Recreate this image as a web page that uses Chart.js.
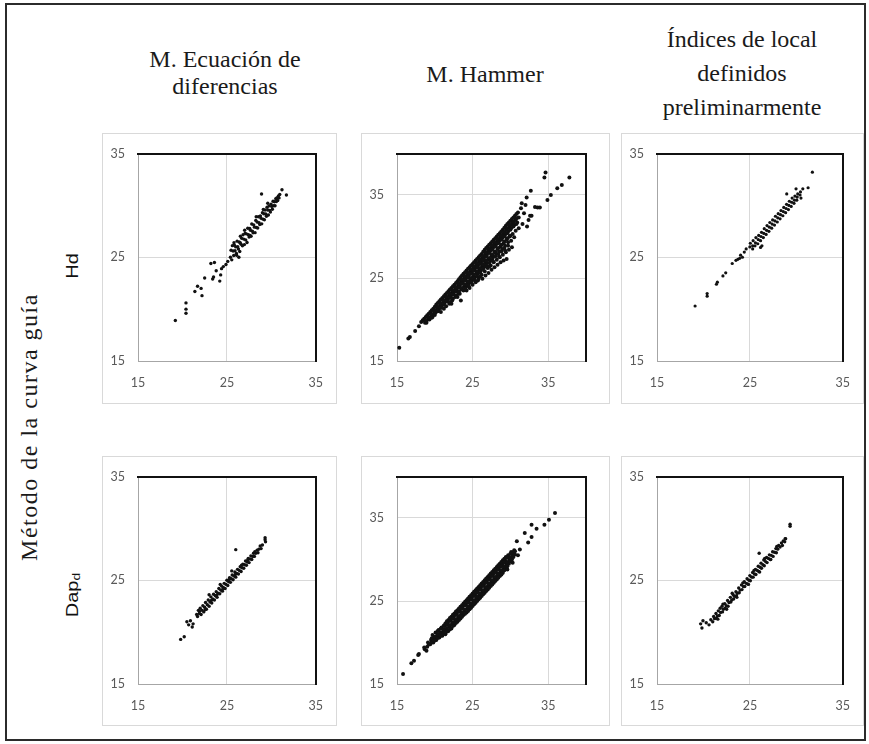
<!DOCTYPE html>
<html><head><meta charset="utf-8">
<script src="https://cdn.jsdelivr.net/npm/chart.js@4.4.1/dist/chart.umd.min.js"></script>
<style>
html,body{margin:0;padding:0;background:#fff;}
body{width:869px;height:744px;position:relative;overflow:hidden;}
.frame{position:absolute;left:5px;top:3px;width:861px;height:738px;border:2px solid #2b2b2b;box-sizing:border-box;}
.box{position:absolute;border:1px solid #d9d9d9;box-sizing:border-box;background:#fff;}
canvas{position:absolute;}
.title{position:absolute;font-family:"Liberation Serif","Times New Roman",serif;font-size:24px;line-height:24px;color:#1a1a1a;text-align:center;white-space:nowrap;}
.rot{position:absolute;white-space:nowrap;}
.serif{font-family:"Liberation Serif","Times New Roman",serif;font-size:24px;line-height:24px;letter-spacing:1.5px;color:#1a1a1a;transform:translate(-50%,-50%) rotate(-90deg);}
.sans{font-family:"Liberation Sans",Arial,sans-serif;font-size:16px;line-height:16px;color:#111;transform:translate(-50%,-50%) rotate(-90deg) scaleX(1.25);}
.sub{font-size:0.7em;line-height:0;vertical-align:-0.2em;}
</style></head>
<body>
<div class="frame"></div>

<div class="title" style="left:75px;top:47px;width:300px;">M. Ecuación de</div>
<div class="title" style="left:75px;top:74px;width:300px;">diferencias</div>
<div class="title" style="left:335px;top:62px;width:300px;">M. Hammer</div>
<div class="title" style="left:592px;top:27px;width:300px;">Índices de local</div>
<div class="title" style="left:592px;top:61px;width:300px;">definidos</div>
<div class="title" style="left:592px;top:95px;width:300px;">preliminarmente</div>

<div class="rot serif" style="left:29px;top:427px;">Método de la curva guía</div>
<div class="rot sans" style="left:73px;top:266px;">Hd</div>
<div class="rot sans" style="left:73px;top:595px;">Dap<span class="sub">d</span></div>

<div class="box" style="left:102px;top:133px;width:235px;height:271px;"></div>
<div class="box" style="left:361px;top:133px;width:249px;height:271px;"></div>
<div class="box" style="left:621px;top:133px;width:243px;height:271px;"></div>
<div class="box" style="left:102px;top:456px;width:235px;height:270px;"></div>
<div class="box" style="left:361px;top:456px;width:249px;height:270px;"></div>
<div class="box" style="left:621px;top:456px;width:243px;height:270px;"></div>

<canvas id="c1" width="235" height="271" style="left:102px;top:133px;"></canvas>
<canvas id="c2" width="249" height="271" style="left:361px;top:133px;"></canvas>
<canvas id="c3" width="243" height="271" style="left:621px;top:133px;"></canvas>
<canvas id="c4" width="235" height="270" style="left:102px;top:456px;"></canvas>
<canvas id="c5" width="249" height="270" style="left:361px;top:456px;"></canvas>
<canvas id="c6" width="243" height="270" style="left:621px;top:456px;"></canvas>

<script>
// ---- tick values ----
const tickValues = [15, 25, 35];
const axisMin = 15;
const axisMaxSmall = 35;
const axisMaxHammer = 40;

const ecuacionHd = [[19.2,18.9],[20.4,20.6],[20.4,20.0],[20.4,19.6],[21.4,21.7],[21.7,22.2],[22.1,22.0],[22.2,21.3],[22.5,23.0],[23.2,24.4],[23.6,24.5],[23.4,22.9],[23.5,23.1],[23.8,23.7],[24.2,22.7],[24.3,23.3],[24.4,23.9],[24.6,24.1],[24.9,24.3],[25.1,24.6],
[25.4,25.0],[25.47,25.67],[25.55,24.75],[25.62,26.12],[25.7,25.6],[25.77,25.17],[25.85,26.15],[25.92,25.62],[26.0,26.0],[26.07,25.37],[26.15,26.55],[26.22,26.02],[26.3,25.8],[26.37,26.47],[26.35,25.0],[26.45,25.55],[26.52,27.02],[26.6,26.25],[26.67,26.82],[26.75,26.1],[26.82,27.17],[26.9,26.75],[26.97,26.22],[27.05,27.3],[27.12,26.67],[27.2,27.25],[27.27,26.42],[27.35,27.8],[27.42,27.17],[27.5,26.95],[27.57,27.77],[27.65,27.6],[27.72,27.02],[27.8,28.2],[27.87,27.52],[27.95,27.35],[28.02,28.12],[28.1,27.9],[28.17,27.37],[28.25,28.55],[28.32,27.87],[28.4,28.4],[28.47,27.82],[28.55,28.9],[28.62,28.32],[28.7,28.15],[28.77,28.97],[28.85,28.75],[28.92,28.22],[29.0,29.3],[29.07,28.67],[29.15,29.2],[29.22,28.62],[29.3,29.55],[29.37,29.17],[29.45,28.95],[29.52,29.82],[29.6,29.55],[29.67,29.07],[29.75,29.95],[29.82,29.52],[29.9,29.35],[29.97,30.12],[30.05,29.9],[30.12,29.62],[30.2,30.4],[30.27,29.97],[30.35,30.35],[30.42,29.97],[30.5,30.65],[30.57,30.37],[30.65,30.75],[30.72,30.47],[30.8,30.9],[30.87,30.72],[30.95,31.05],
[25.8,26.4],[26.1,25.2],[26.5,26.4],[27.0,27.6],[27.6,27.1],[28.3,28.9],[29.1,29.6],[29.6,30.2],[28.9,31.1],[31.2,31.5],[31.7,31.0]];

const hammerHd = [[15.3,16.6],[16.5,17.7],[16.7,17.9],[17.4,18.6],[17.9,19.2],[18.2,19.7],[18.4,19.9],
[18.6,20.1],[18.7,19.6],[19.0,20.5],[19.1,20.0],[18.9,19.6],[19.4,20.9],[19.5,20.4],[19.3,20.0],[19.8,21.3],[19.9,20.8],[19.7,20.3],[20.2,21.8],[20.3,21.3],[20.1,20.8],
[20.6,22.2],[20.7,21.7],[20.5,21.2],[20.8,20.9],[21.0,22.6],[21.1,22.1],[20.9,21.6],[21.2,21.3],[21.4,23.0],[21.5,22.5],[21.3,22.0],[21.5,21.6],[21.8,23.4],[21.9,22.9],[21.7,22.4],[21.9,21.9],
[22.2,23.8],[22.3,23.3],[22.1,22.8],[22.3,22.3],[22.2,21.9],[22.6,24.2],[22.7,23.7],[22.5,23.2],[22.7,22.7],[23.0,24.6],[23.1,24.1],[22.9,23.6],[23.1,23.1],[23.0,22.7],
[23.4,25.1],[23.5,24.6],[23.3,24.1],[23.5,23.6],[23.3,23.1],[23.45,22.3],[23.8,25.5],[23.9,25.0],[23.7,24.5],[23.9,24.0],[23.8,23.5],
[24.2,25.9],[24.3,25.4],[24.1,24.9],[24.3,24.4],[24.1,23.9],[24.2,23.5],[24.6,26.3],[24.7,25.8],[24.5,25.3],[24.7,24.8],[24.5,24.3],[24.6,23.8],
[25.0,26.7],[25.1,26.2],[24.9,25.7],[25.1,25.2],[24.9,24.7],[25.0,24.2],[25.4,27.1],[25.5,26.6],[25.3,26.1],[25.5,25.6],[25.3,25.1],[25.4,24.5],
[25.8,27.5],[25.9,27.0],[25.7,26.5],[25.9,26.0],[25.7,25.5],[25.8,24.9],[26.2,27.9],[26.3,27.4],[26.1,26.9],[26.3,26.4],[26.1,25.9],[26.2,25.4],[26.3,24.9],
[26.6,28.4],[26.7,27.9],[26.5,27.4],[26.7,26.9],[26.5,26.4],[26.6,25.8],[26.7,25.3],[27.0,28.8],[27.1,28.3],[26.9,27.8],[27.1,27.3],[26.9,26.8],[27.0,26.2],[27.1,25.6],
[27.4,29.2],[27.5,28.7],[27.3,28.2],[27.5,27.7],[27.3,27.1],[27.4,26.5],[27.5,26.0],[27.8,29.6],[27.9,29.1],[27.7,28.6],[27.9,28.1],[27.7,27.5],[27.8,26.9],[27.9,26.3],
[28.2,30.0],[28.3,29.5],[28.1,29.0],[28.3,28.5],[28.1,27.9],[28.2,27.2],[28.3,26.6],[28.6,30.4],[28.7,29.9],[28.5,29.4],[28.7,28.8],[28.5,28.2],[28.6,27.5],[28.7,26.9],
[29.0,30.8],[29.1,30.3],[28.9,29.8],[29.1,29.2],[28.9,28.5],[29.0,27.8],[29.1,27.1],[29.4,31.3],[29.5,30.8],[29.3,30.2],[29.5,29.6],[29.3,28.9],[29.4,28.1],[29.5,27.3],
[29.8,31.7],[29.9,31.2],[29.7,30.6],[29.9,30.0],[29.7,29.3],[29.8,28.4],[30.2,32.1],[30.3,31.6],[30.1,31.0],[30.3,30.3],[30.1,29.5],[30.2,28.7],
[30.6,32.5],[30.7,32.0],[30.5,31.4],[30.7,30.7],[30.5,29.9],[31.0,32.9],[31.1,32.3],[30.9,31.7],[31.1,31.0],
[18.8,20.3],[18.8,19.8],[19.2,20.7],[19.2,20.2],[19.6,21.1],[19.6,20.6],[19.6,20.2],[20.0,21.55],[20.0,21.05],[20.0,20.55],[20.4,22.0],[20.4,21.5],[20.4,21.0],
[20.8,22.4],[20.8,21.9],[20.8,21.4],[21.2,22.8],[21.2,22.3],[21.2,21.8],[21.6,23.2],[21.6,22.7],[21.6,22.2],[22.0,23.6],[22.0,23.1],[22.0,22.6],[22.0,22.1],
[22.4,24.0],[22.4,23.5],[22.4,23.0],[22.4,22.5],[22.8,24.4],[22.8,23.9],[22.8,23.4],[22.8,22.9],[23.2,24.85],[23.2,24.35],[23.2,23.85],[23.2,23.35],
[23.6,25.3],[23.6,24.8],[23.6,24.3],[23.6,23.8],[24.0,25.7],[24.0,25.2],[24.0,24.7],[24.0,24.2],[24.0,23.7],[24.4,26.1],[24.4,25.6],[24.4,25.1],[24.4,24.6],[24.4,24.1],
[24.8,26.5],[24.8,26.0],[24.8,25.5],[24.8,25.0],[24.8,24.5],[25.2,26.9],[25.2,26.4],[25.2,25.9],[25.2,25.4],[25.2,24.9],[25.6,27.3],[25.6,26.8],[25.6,26.3],[25.6,25.8],[25.6,25.2],
[26.0,27.7],[26.0,27.2],[26.0,26.7],[26.0,26.2],[26.0,25.7],[26.4,28.15],[26.4,27.65],[26.4,27.15],[26.4,26.65],[26.4,26.1],[26.8,28.6],[26.8,28.1],[26.8,27.6],[26.8,27.1],[26.8,26.5],
[27.2,29.0],[27.2,28.5],[27.2,28.0],[27.2,27.4],[27.2,26.8],[27.6,29.4],[27.6,28.9],[27.6,28.4],[27.6,27.8],[27.6,27.2],[28.0,29.8],[28.0,29.3],[28.0,28.8],[28.0,28.2],[28.0,27.6],
[28.4,30.2],[28.4,29.7],[28.4,29.2],[28.4,28.6],[28.4,27.9],[28.8,30.6],[28.8,30.1],[28.8,29.6],[28.8,29.0],[28.8,28.2],[29.2,31.05],[29.2,30.55],[29.2,30.0],[29.2,29.4],[29.2,28.6],
[29.6,31.5],[29.6,31.0],[29.6,30.4],[29.6,29.8],[30.0,31.9],[30.0,31.4],[30.0,30.8],[30.0,30.1],[30.4,32.3],[30.4,31.8],[30.4,31.2],[30.8,32.7],[30.8,32.2],[30.8,31.5],
[24.5,24.0],[25.3,24.7],[26.0,25.2],[26.9,26.3],[27.7,27.0],[28.5,27.6],[29.3,28.3],[27.2,26.4],[25.7,24.7],[29.7,28.9],
[31.5,34.0],[31.4,33.4],[31.8,32.8],[32.0,33.8],[32.15,34.7],[32.7,35.5],[31.6,31.5],[32.2,31.2],[32.4,32.0],[32.6,32.5],[32.8,32.5],[33.25,33.55],[33.6,33.5],[33.9,33.5],[34.9,34.4],[35.35,35.0],[34.5,37.1],[34.65,37.7],[36.2,35.8],[36.8,36.2],[37.8,37.1]];

const indicesHd = [[19.1,20.3],[20.4,21.5],[20.4,21.25],[21.4,22.4],[21.5,22.6],[22.1,23.2],[22.4,23.5],[23.1,24.4],[23.5,24.7],[23.7,24.8],[24.0,25.2],[24.4,25.5],[24.6,25.8],[24.2,25.0],[23.9,24.9],
[25.0,26.0],[25.05,26.35],[25.3,26.1],[25.35,26.6],[25.3,25.8],[25.6,26.4],[25.65,26.9],[25.55,26.1],[25.9,26.7],[25.95,27.1],[25.85,26.3],[26.15,25.95],[26.2,27.0],[26.25,27.4],[26.15,26.6],[26.3,26.1],[26.5,27.3],[26.55,27.75],[26.45,26.9],[26.8,27.6],[26.85,28.05],[26.75,27.2],[27.1,27.9],[27.15,28.35],[27.05,27.5],[27.4,28.2],[27.45,28.6],[27.35,27.8],[27.7,28.5],[27.75,28.95],[27.65,28.1],[28.0,28.8],[28.05,29.2],[27.95,28.4],[28.3,29.1],[28.35,29.5],[28.25,28.7],[28.6,29.4],[28.65,29.8],[28.55,29.0],[28.9,29.7],[28.95,30.1],[28.85,29.3],[29.2,30.0],[29.25,30.4],[29.15,29.6],[29.5,30.3],[29.55,30.7],[29.45,29.9],[29.8,30.5],[29.85,30.9],[29.75,30.2],[30.1,30.8],[30.15,31.1],[30.05,30.5],[30.4,31.0],[30.45,31.3],[30.5,30.7],[28.97,31.1],[29.97,31.6],[30.7,31.6],[31.27,31.7],[31.73,33.2]];

const ecuacionDap = [[19.8,19.3],[20.2,19.55],[20.5,21.0],[20.9,21.1],[21.1,20.5],[21.2,20.8],[20.7,20.7],[21.6,21.7],[21.9,22.0],
[21.7,21.5],[21.8,22.1],[21.9,21.8],[22.0,22.3],[22.1,21.7],[22.2,22.1],[22.3,22.55],[22.4,21.95],[22.5,22.4],[22.6,22.85],[22.7,22.2],[22.8,22.65],[22.9,23.1],[23.0,22.5],[23.1,22.9],[23.2,23.4],[23.3,22.8],[23.4,23.2],[23.5,23.65],[23.6,23.1],[23.7,23.5],[23.8,23.9],[23.9,23.35],[24.0,23.75],[24.1,24.2],[24.2,23.7],[24.3,24.05],[24.4,24.45],[24.5,23.95],[24.6,24.3],[24.7,24.7],[24.8,24.2],[24.9,24.6],[25.0,25.0],[25.1,24.5],[25.2,24.85],[25.3,25.25],[25.4,24.8],[25.5,25.15],[25.6,25.5],[25.7,25.05],[25.8,25.4],[25.9,25.8],[26.0,25.3],[26.1,25.65],[26.2,26.05],[26.3,25.6],[26.4,25.95],[26.5,26.3],[26.6,25.85],[26.7,26.2],[26.8,26.55],[26.9,26.15],[27.0,26.5],[27.1,26.85],[27.2,26.45],[27.3,26.75],[27.4,27.1],[27.5,26.7],[27.6,27.05],[27.7,27.35],[27.8,27.0],[27.9,27.3],[28.0,27.6],[28.1,27.3],[28.25,27.6],[28.4,27.9],[28.5,27.65],[28.6,28.0],[28.75,28.3],[28.85,28.05],[29.0,28.4],
[22.55,22.15],[23.25,23.05],[23.85,23.55],[24.55,24.15],[25.25,25.05],[25.95,25.55],[26.65,26.45],[27.35,26.95],[28.15,27.75],[23.0,23.6],[24.25,24.6],[25.55,25.9],
[26.0,27.95],[29.3,29.1],[29.35,28.7],[29.3,28.9]];

const hammerDap = [[15.8,16.2],[16.9,17.5],[17.25,17.8],[17.8,18.5],[17.9,18.6],[18.67,19.2],[18.9,19.0],[18.6,19.4],
[19.0,19.5],[19.1,20.0],[19.4,19.8],[19.5,20.3],[19.8,20.0],[19.9,20.5],[19.7,20.9],[20.2,20.3],[20.3,20.8],[20.1,21.2],[20.6,20.6],[20.7,21.1],[20.5,21.5],
[21.0,20.8],[21.1,21.3],[20.9,21.8],[21.4,21.0],[21.5,21.5],[21.3,22.0],[21.4,22.3],[21.8,21.4],[21.9,21.9],[21.7,22.4],[21.8,22.7],
[22.2,21.7],[22.3,22.2],[22.1,22.7],[22.2,23.1],[22.6,22.1],[22.7,22.6],[22.5,23.1],[22.6,23.5],[23.0,22.5],[23.1,23.0],[22.9,23.5],[23.0,23.9],
[23.4,22.9],[23.5,23.4],[23.3,23.9],[23.4,24.3],[23.8,23.3],[23.9,23.8],[23.7,24.3],[23.8,24.7],[24.2,23.6],[24.3,24.1],[24.1,24.6],[24.2,25.1],
[24.6,24.0],[24.7,24.5],[24.5,25.0],[24.6,25.5],[25.0,24.4],[25.1,24.9],[24.9,25.4],[25.0,25.9],[25.4,24.8],[25.5,25.3],[25.3,25.8],[25.4,26.3],
[25.8,25.2],[25.9,25.7],[25.7,26.2],[25.8,26.7],[26.2,25.6],[26.3,26.1],[26.1,26.6],[26.2,27.1],[26.6,26.0],[26.7,26.5],[26.5,27.0],[26.6,27.5],
[27.0,26.4],[27.1,26.9],[26.9,27.4],[27.0,27.9],[27.4,26.8],[27.5,27.3],[27.3,27.8],[27.4,28.3],[27.8,27.2],[27.9,27.7],[27.7,28.2],[27.8,28.7],
[28.2,27.6],[28.3,28.1],[28.1,28.6],[28.2,29.1],[28.6,28.0],[28.7,28.5],[28.5,29.0],[28.6,29.5],[29.0,28.4],[29.1,28.9],[28.9,29.4],[29.0,29.9],
[29.4,28.9],[29.5,29.4],[29.3,29.9],[29.4,30.3],[29.8,29.5],[29.9,30.0],[29.7,30.5],[30.2,30.0],[30.3,30.5],[30.1,30.9],[30.6,30.6],[30.5,31.1],
[19.2,19.75],[19.6,20.05],[19.6,20.5],[20.0,20.25],[20.0,20.7],[20.4,20.55],[20.4,21.0],[20.4,21.4],[20.8,20.8],[20.8,21.25],[20.8,21.7],[21.2,21.1],[21.2,21.6],[21.2,22.05],
[21.6,21.3],[21.6,21.75],[21.6,22.2],[21.6,22.55],[22.0,21.6],[22.0,22.1],[22.0,22.6],[22.0,22.95],[22.4,22.0],[22.4,22.45],[22.4,22.9],[22.4,23.35],[22.8,22.35],[22.8,22.8],[22.8,23.3],[22.8,23.75],
[23.2,22.7],[23.2,23.2],[23.2,23.7],[23.2,24.1],[23.6,23.1],[23.6,23.6],[23.6,24.1],[23.6,24.5],[24.0,23.45],[24.0,23.95],[24.0,24.45],[24.0,24.9],[24.4,23.8],[24.4,24.3],[24.4,24.8],[24.4,25.3],
[24.8,24.2],[24.8,24.7],[24.8,25.2],[24.8,25.7],[25.2,24.6],[25.2,25.1],[25.2,25.6],[25.2,26.1],[25.6,25.0],[25.6,25.5],[25.6,26.0],[25.6,26.5],[26.0,25.4],[26.0,25.9],[26.0,26.4],[26.0,26.9],
[26.4,25.8],[26.4,26.3],[26.4,26.8],[26.4,27.3],[26.8,26.2],[26.8,26.7],[26.8,27.2],[26.8,27.7],[27.2,26.6],[27.2,27.1],[27.2,27.6],[27.2,28.1],[27.6,27.0],[27.6,27.5],[27.6,28.0],[27.6,28.5],
[28.0,27.4],[28.0,27.9],[28.0,28.4],[28.0,28.9],[28.4,27.8],[28.4,28.3],[28.4,28.8],[28.4,29.3],[28.8,28.2],[28.8,28.7],[28.8,29.2],[28.8,29.7],[29.2,28.7],[29.2,29.15],[29.2,29.65],[29.2,30.1],
[29.6,29.2],[29.6,29.7],[29.6,30.2],[30.0,29.8],[30.0,30.25],[30.0,30.7],[30.4,30.3],[30.4,30.8],
[30.85,32.2],[31.9,33.2],[32.8,34.2],[33.46,33.7],[34.5,34.2],[35.1,34.8],[35.9,35.6],[31.25,31.2],[30.6,31.0],[32.35,32.05],[32.8,32.7],[28.8,28.2],[31.0,30.5],[30.3,29.6],[29.6,28.8]];

const indicesDap = [[19.7,20.8],[19.84,20.4],[19.95,21.1],[20.3,20.9],[20.6,20.7],[20.8,21.2],
[21.0,21.0],[21.1,21.5],[21.2,21.3],[21.35,21.8],[21.4,21.35],[21.5,21.55],[21.6,22.05],[21.7,21.6],[21.8,22.3],[21.85,21.9],[22.0,22.5],[22.05,21.95],[22.15,22.2],[22.3,22.75],[22.35,22.3],[22.45,22.55],[22.6,23.05],[22.65,22.5],[22.75,22.85],[22.9,23.35],[22.95,22.9],[23.05,23.1],[23.2,23.6],[23.25,23.2],[23.35,23.45],[23.5,23.9],[23.55,23.5],[23.65,23.75],[23.8,24.25],[23.85,23.8],[23.95,24.05],[24.1,24.55],[24.15,24.1],[24.3,24.4],[24.4,24.85],[24.45,24.4],[24.6,24.7],[24.7,25.15],[24.75,24.65],[24.9,25.0],[25.0,25.45],[25.05,24.95],[25.2,25.3],[25.3,25.75],[25.35,25.3],[25.5,25.6],[25.6,26.05],[25.65,25.55],[25.8,25.95],[25.9,26.35],[25.95,25.85],[26.1,26.25],[26.2,26.65],[26.25,26.15],[26.4,26.5],[26.5,26.95],[26.55,26.4],[26.7,26.8],[26.8,27.2],[26.85,26.7],[27.0,27.1],[27.1,27.45],[27.2,27.0],[27.3,27.4],[27.45,27.75],[27.5,27.3],[27.65,27.7],[27.8,28.05],[27.85,27.65],[28.0,28.0],[28.1,28.35],[28.25,28.2],[28.4,28.6],[28.5,28.35],[28.6,28.8],[28.75,28.7],[28.85,29.0],
[21.55,21.25],[22.5,22.2],[23.1,23.75],[23.6,23.35],[24.25,24.75],[24.85,24.6],[25.45,25.95],[26.05,25.8],[26.6,27.1],[27.25,27.0],[27.9,28.25],[22.1,22.7],
[29.33,30.4],[29.33,30.2],[26.0,27.6],[28.8,29.0]];

// ---- layout of each panel (styling only) ----
const panels = [
  {id:'c1', data: ecuacionHd,  max: axisMaxSmall,  r:1.7, pad:{left:36, top:19, right:10, bottom:43}},
  {id:'c2', data: hammerHd,    max: axisMaxHammer, r:2.0, pad:{left:36, top:19, right:24, bottom:43}},
  {id:'c3', data: indicesHd,   max: axisMaxSmall,  r:1.6, pad:{left:36, top:19, right:19, bottom:43}},
  {id:'c4', data: ecuacionDap, max: axisMaxSmall,  r:1.7, pad:{left:36, top:18, right:10, bottom:42}},
  {id:'c5', data: hammerDap,   max: axisMaxHammer, r:2.0, pad:{left:36, top:18, right:24, bottom:42}},
  {id:'c6', data: indicesDap,  max: axisMaxSmall,  r:1.7, pad:{left:36, top:18, right:19, bottom:42}}
];

const tickFont = {family: 'Lato, "Liberation Sans", sans-serif', size: 12.5};
const setTicks = s => { s.ticks = tickValues.map(v => ({value: v})); };

panels.forEach(p => {
  new Chart(document.getElementById(p.id), {
    type: 'scatter',
    data: {datasets: [{
      data: p.data.map(d => ({x: d[0], y: d[1]})),
      pointRadius: p.r, pointHoverRadius: p.r,
      pointBackgroundColor: '#111', pointBorderWidth: 0, showLine: false
    }]},
    options: {
      responsive: false, animation: false, devicePixelRatio: 1, events: [],
      layout: {padding: {left: 0, top: p.pad.top, right: p.pad.right, bottom: 0}},
      plugins: {legend: {display: false}, tooltip: {enabled: false}},
      scales: {
        x: {type: 'linear', position: 'bottom', min: axisMin, max: p.max,
            afterBuildTicks: setTicks, afterFit: s => { s.height = p.pad.bottom; },
            grid: {color: '#d9d9d9', lineWidth: 1, drawTicks: false},
            border: {color: '#a6a6a6', width: 1},
            ticks: {padding: 14, font: tickFont, color: '#595959', maxRotation: 0, autoSkip: false}},
        y: {type: 'linear', position: 'left', min: axisMin, max: p.max,
            afterBuildTicks: setTicks, afterFit: s => { s.width = p.pad.left; },
            grid: {color: '#d9d9d9', lineWidth: 1, drawTicks: false},
            border: {color: '#a6a6a6', width: 1},
            ticks: {padding: 13, font: tickFont, color: '#595959', autoSkip: false}},
        x2: {type: 'linear', position: 'top', min: axisMin, max: p.max, z: 1,
             afterFit: s => { s.height = 0; },
             grid: {display: false, drawTicks: false}, ticks: {display: false},
             border: {color: '#111', width: 2}},
        y2: {type: 'linear', position: 'right', min: axisMin, max: p.max, z: 1,
             afterFit: s => { s.width = 0; },
             grid: {display: false, drawTicks: false}, ticks: {display: false},
             border: {color: '#111', width: 2}}
      }
    }
  });
});
</script>
</body></html>
